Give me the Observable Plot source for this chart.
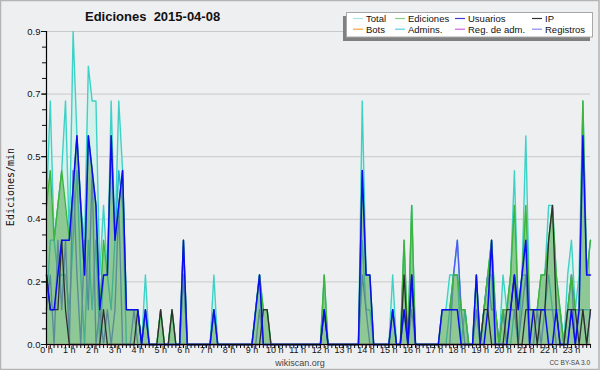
<!DOCTYPE html>
<html><head><meta charset="utf-8">
<script src="https://cdn.jsdelivr.net/npm/d3@7"></script>
<script src="https://cdn.jsdelivr.net/npm/@observablehq/plot@0.6"></script>
<style>
body{margin:0;background:#eeeff1;}
#wrap{position:relative;width:600px;height:370px;background:#eeeff1;overflow:hidden;}
#wrap svg{position:absolute;left:0;top:0;}
</style></head>
<body><div id="wrap"></div>
<script>
// 10-minute bins, 00:00 .. 23:50 (edits per minute)
const T = [
0.4,0.7,0.3,0.4,0.5,0.7, 0.3,0.9,0.6,0.4,0.3,0.8, 0.7,0.7,0.2,0.4,0.2,0.7, 0.3,0.7,0.5,0.1,0.1,0.1,
0.1,0,0.2,0,0,0, 0.1,0,0,0.1,0,0, 0.3,0,0,0,0,0, 0,0,0.2,0,0,0,
0,0,0,0,0,0, 0,0.1,0.2,0.1,0.1,0, 0,0,0,0,0,0, 0,0,0,0,0,0,
0,0.2,0,0,0,0, 0,0,0,0,0,0.7, 0.2,0.2,0,0,0,0, 0,0.2,0,0,0.3,0,
0.4,0,0,0,0,0, 0,0,0.1,0.1,0.2,0.2, 0.3,0.1,0.1,0,0,0.2, 0,0.1,0.2,0.3,0.1,0,
0.2,0.1,0.2,0.5,0.1,0.2, 0.6,0.1,0.1,0.1,0.2,0.2, 0.4,0.4,0.2,0.1,0,0.2, 0.3,0.1,0.2,0.7,0.2,0.3];
const E = [
0.4,0.5,0.3,0.4,0.5,0.4, 0.3,0.45,0.6,0.4,0.2,0.6, 0.5,0.4,0.1,0.3,0.2,0.6, 0.3,0.4,0.5,0.1,0.1,0.1,
0.1,0,0.1,0,0,0, 0.1,0,0,0.1,0,0, 0.3,0,0,0,0,0, 0,0,0.1,0,0,0,
0,0,0,0,0,0, 0,0.1,0.2,0.1,0.1,0, 0,0,0,0,0,0, 0,0,0,0,0,0,
0,0.2,0,0,0,0, 0,0,0,0,0,0.5, 0.2,0.2,0,0,0,0, 0,0.1,0,0,0.3,0,
0.4,0,0,0,0,0, 0,0,0.1,0.1,0.1,0.2, 0.2,0.1,0.1,0,0,0.2, 0,0.1,0.2,0.3,0.1,0,
0.1,0.1,0.2,0.4,0.1,0.2, 0.4,0.1,0.1,0.1,0.2,0.2, 0.3,0.4,0.2,0.1,0,0.1, 0.2,0.1,0.1,0.7,0.2,0.3];
const U = [
0.2,0.1,0.1,0.2,0.3,0.3, 0.3,0.45,0.6,0.4,0.2,0.6, 0.5,0.4,0.1,0.2,0.2,0.6, 0.3,0.4,0.5,0.1,0.1,0.1,
0.1,0,0.1,0,0,0, 0,0,0,0,0,0, 0.3,0,0,0,0,0, 0,0,0.1,0,0,0,
0,0,0,0,0,0, 0,0.1,0.2,0,0,0, 0,0,0,0,0,0, 0,0,0,0,0,0,
0,0.1,0,0,0,0, 0,0,0,0,0,0.5, 0.2,0.2,0,0,0,0, 0,0.1,0,0,0.1,0,
0.2,0,0,0,0,0, 0,0,0.1,0.1,0.1,0.1, 0.1,0,0,0,0,0.2, 0,0,0.1,0.3,0,0,
0,0,0.1,0.2,0.1,0.2, 0.3,0,0.1,0.1,0.1,0.1, 0,0,0.1,0,0,0, 0.1,0,0.1,0.6,0.2,0.2];
const IP = [
0.2,0.1,0.1,0.1,0.3,0.1, 0,0,0,0,0,0, 0,0,0,0.1,0,0, 0,0,0,0,0,0,
0.1,0,0,0,0,0, 0.1,0,0,0.1,0,0, 0,0,0,0,0,0, 0,0,0,0,0,0,
0,0,0,0,0,0, 0,0,0,0.1,0.1,0, 0,0,0,0,0,0, 0,0,0,0,0,0,
0,0.1,0,0,0,0, 0,0,0,0,0,0, 0,0,0,0,0,0, 0,0,0,0,0.2,0,
0.2,0,0,0,0,0, 0,0,0,0,0,0, 0,0,0,0,0,0, 0,0.1,0.1,0,0,0,
0,0.1,0.1,0.2,0,0, 0.1,0.1,0.1,0,0.1,0.1, 0.3,0.4,0.1,0,0,0.1, 0.1,0.1,0,0.1,0,0.1];
const Bots = [
0,0,0,0,0,0, 0,0,0,0,0,0, 0,0,0,0,0,0, 0,0,0,0,0,0,
0,0,0,0,0,0, 0,0,0,0,0,0, 0,0,0,0,0,0, 0,0,0,0,0,0,
0,0,0,0,0,0, 0,0,0,0,0,0, 0,0,0,0,0,0, 0,0,0,0,0,0,
0,0,0,0,0,0, 0,0,0,0,0,0, 0,0,0,0,0,0, 0,0,0,0,0,0,
0,0,0,0,0,0, 0,0,0,0,0,0, 0,0,0,0,0,0, 0,0,0,0,0,0,
0,0,0,0,0,0, 0,0,0,0,0,0, 0,0,0,0,0,0, 0,0,0,0,0,0];
const A = [
0.1,0.3,0.3,0.2,0.2,0.2, 0.1,0.3,0.5,0.2,0,0.3, 0.1,0.3,0,0.2,0.2,0.1, 0.3,0.5,0.4,0,0,0,
0,0,0.1,0,0,0, 0,0,0,0,0,0, 0.2,0,0,0,0,0, 0,0,0.1,0,0,0,
0,0,0,0,0,0, 0,0.1,0.2,0,0,0, 0,0,0,0,0,0, 0,0,0,0,0,0,
0,0.1,0,0,0,0, 0,0,0,0,0,0.3, 0.1,0.1,0,0,0,0, 0,0.1,0,0,0.1,0,
0.2,0,0,0,0,0, 0,0,0,0,0.1,0.2, 0.2,0,0.1,0,0,0.1, 0,0.1,0.2,0.2,0,0,
0.1,0,0,0.1,0,0.2, 0.2,0,0,0,0.1,0.1, 0.2,0.1,0.1,0.1,0,0, 0.1,0.1,0.1,0.1,0.1,0.1];
const RA = [
0,0,0,0,0,0, 0,0,0,0,0,0, 0,0,0,0,0,0, 0,0,0,0,0,0,
0,0,0,0,0,0, 0,0,0,0,0,0, 0,0,0,0,0,0, 0,0,0,0,0,0,
0,0,0,0,0,0, 0,0,0,0,0,0, 0,0,0,0,0,0, 0,0,0,0,0,0,
0,0,0,0,0,0, 0,0,0,0,0,0, 0,0,0,0,0,0, 0,0,0,0,0,0,
0,0,0,0,0,0, 0,0,0,0,0,0, 0,0,0,0,0,0, 0,0,0,0,0,0,
0,0,0,0,0,0, 0,0,0,0,0,0, 0,0,0,0,0,0, 0.1,0,0,0,0,0];
const R = [
0.1,0.2,0,0.3,0.1,0.3, 0,0.5,0.2,0,0.3,0.1, 0.5,0,0.1,0,0.1,0, 0.1,0.4,0,0,0,0.1,
0,0,0.1,0,0,0, 0,0,0,0,0,0, 0.2,0,0,0,0,0, 0,0,0.1,0,0,0,
0,0,0,0,0,0, 0,0,0.1,0,0,0, 0,0,0,0,0,0, 0,0,0,0,0,0,
0,0.1,0,0,0,0, 0,0,0,0,0,0.2, 0.1,0,0,0,0,0, 0,0.1,0,0,0.1,0,
0.1,0,0,0,0,0, 0,0,0,0,0,0.2, 0.3,0.1,0,0,0,0.1, 0,0.1,0.2,0.1,0.1,0,
0.1,0,0.1,0.1,0,0.1, 0.2,0,0,0.1,0,0.1, 0.1,0.1,0,0,0,0.1, 0.2,0,0.1,0.1,0,0.1];

const hourTicks = [0,1,2,3,4,5,6,7,8,9,10,11,12,13,14,15,16,17,18,19,20,21,22,23];
const yMajor = [0, 0.18, 0.36, 0.54, 0.72, 0.9];
const legendNames = ["Total","Ediciones","Usuarios","IP","Bots","Admins.","Reg. de adm.","Registros"];
const legendColors = ["#a6e6dc","#88d088","#3c3cdc","#333333","#f5a040","#58cce0","#d060e0","#8888f0"];

const rows = T.map((v, i) => ({h: i / 6, T: v, E: E[i], U: U[i], IP: IP[i], B: Bots[i], A: A[i], RA: RA[i], R: R[i]}));
const xMinor = rows.map(d => d.h);
const yMinor = d3.range(0, 0.9001, 0.045);

const line = (key, color, w) => Plot.lineY(rows, {x: "h", y: key, stroke: color, strokeWidth: w});

const chart = Plot.plot({
  width: 600, height: 370,
  marginLeft: 46, marginRight: 10, marginTop: 31, marginBottom: 26,
  style: {background: "transparent", fontFamily: "'Liberation Sans', sans-serif", fontSize: "9px", color: "#111"},
  x: {domain: [0, 143 / 6]},
  y: {domain: [0, 0.9]},
  marks: [
    Plot.gridY(yMajor, {stroke: "#c9c9c9", strokeOpacity: 1}),
    Plot.areaY(rows, {x: "h", y: "T", fill: "#d4f2eb"}),
    line("B", "#f0a030", 1.3),
    line("T", "#3ed2c6", 1.4),
    line("A", "#1fb2da", 1.4),
    line("R", "#5858f2", 1.4),
    line("RA", "#c640dc", 1.4),
    Plot.areaY(rows, {x: "h", y: "E", fill: "#5fad5c", fillOpacity: 0.6}),
    line("E", "#3db43d", 1.4),
    line("IP", "#2e2e2e", 1.3),
    line("U", "#0c0cf0", 1.5),
    Plot.ruleY([0], {stroke: "#000", strokeWidth: 1.2}),
    Plot.ruleX([0], {stroke: "#000", strokeWidth: 1.2}),
    Plot.axisY({ticks: yMinor, tickSize: 4, tickFormat: () => "", label: null}),
    Plot.axisY({ticks: yMajor, tickSize: 5, tickPadding: 1, fontSize: 9.5, tickFormat: d => d.toFixed(1), label: null}),
    Plot.axisX({ticks: xMinor, tickSize: 4, tickFormat: () => "", label: null}),
    Plot.axisX({ticks: hourTicks, tickSize: 4, tickPadding: -2, tickFormat: d => `${d} h`, label: null})
  ]
});
document.getElementById("wrap").appendChild(chart);

// overlay: title, legend, y label, footer
const ov = d3.select("#wrap").append("svg").attr("width", 600).attr("height", 370)
  .style("pointer-events", "none");
ov.append("rect").attr("x", 0.5).attr("y", 0.5).attr("width", 598.5).attr("height", 369)
  .attr("fill", "none").attr("stroke", "#b4b4b4").attr("stroke-width", 1.5);
ov.append("text").attr("x", 85).attr("y", 21).attr("font-family", "'Liberation Sans', sans-serif")
  .attr("font-size", 13).attr("font-weight", "bold").attr("fill", "#111")
  .style("white-space", "pre").text("Ediciones  2015-04-08");
ov.append("text").attr("transform", "translate(13.5,187) rotate(-90)").attr("text-anchor", "middle")
  .attr("font-family", "'DejaVu Sans Mono', monospace").attr("font-size", 10).attr("fill", "#111")
  .text("Ediciones/min");
ov.append("text").attr("x", 300).attr("y", 365.5).attr("text-anchor", "middle")
  .attr("font-family", "'Liberation Sans', sans-serif").attr("font-size", 9).attr("fill", "#444")
  .text("wikiscan.org");
ov.append("text").attr("x", 590).attr("y", 365).attr("text-anchor", "end")
  .attr("font-family", "'Liberation Sans', sans-serif").attr("font-size", 6.5).attr("fill", "#444")
  .text("CC BY-SA 3.0");
// legend
ov.append("rect").attr("x", 343).attr("y", 16).attr("width", 247).attr("height", 25).attr("fill", "#808080");
ov.append("rect").attr("x", 346.5).attr("y", 12.5).attr("width", 246).attr("height", 24.5)
  .attr("fill", "#fff").attr("stroke", "#a8a8a8");
const colX = [366, 408, 468, 545];
const rowY = [18.5, 29.2];
legendNames.forEach((name, k) => {
  const c = k % 4, r = Math.floor(k / 4);
  ov.append("line").attr("x1", colX[c] - 13).attr("x2", colX[c] - 3)
    .attr("y1", rowY[r]).attr("y2", rowY[r]).attr("stroke", legendColors[k]).attr("stroke-width", 1.2);
  ov.append("text").attr("x", colX[c]).attr("y", rowY[r] + 3.4)
    .attr("font-family", "'Liberation Sans', sans-serif").attr("font-size", 9.5).attr("fill", "#111")
    .text(name);
});
</script></body></html>
